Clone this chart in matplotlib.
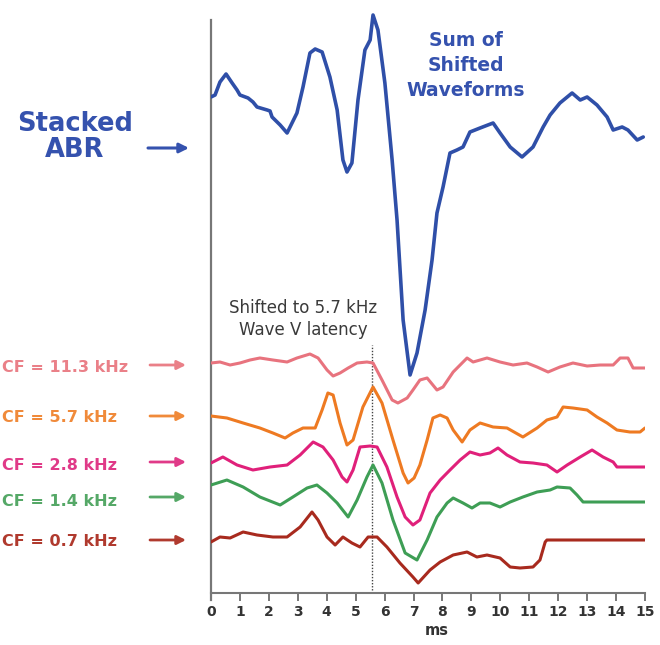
import matplotlib
matplotlib.use("Agg")
import matplotlib.pyplot as plt
import numpy as np

# ---------------------------------------------------------------- data
# Summed (stacked) ABR, time in ms and amplitude in arbitrary units
sum_t = [0.00, 0.14, 0.31, 0.52, 0.73, 0.90, 1.00, 1.28, 1.45, 1.59, 1.94, 2.04,
         2.11, 2.39, 2.63, 2.97, 3.18, 3.42, 3.60, 3.84, 4.11, 4.36, 4.56, 4.70,
         4.87, 5.08, 5.32, 5.50, 5.60, 5.77, 6.01, 6.26, 6.43, 6.64, 6.88, 7.12,
         7.40, 7.64, 7.81, 8.02, 8.26, 8.50, 8.71, 8.95, 9.30, 9.75, 9.99, 10.34,
         10.75, 11.13, 11.48, 11.72, 12.06, 12.48, 12.76, 13.00, 13.34, 13.69,
         13.90, 14.21, 14.41, 14.73, 14.94]
sum_amp = [0, 2, 15, 23, 14, 7, 2, -1, -5, -10, -13, -14,
           -20, -28, -36, -16, 10, 44, 48, 45, 20, -13, -63, -75,
           -66, -3, 47, 57, 82, 67, 14, -63, -123, -223, -278, -256,
           -213, -163, -116, -90, -56, -53, -50, -35, -31, -26, -36, -50,
           -60, -50, -30, -18, -6, 4, -3, 0, -8, -20,
           -33, -30, -33, -43, -40]

# Derived-band responses shifted to the 5.7 kHz wave V latency
cf_labels = ["CF = 11.3 kHz", "CF = 5.7 kHz", "CF = 2.8 kHz",
             "CF = 1.4 kHz", "CF = 0.7 kHz"]

t_113 = [0.00, 0.31, 0.66, 1.00, 1.35, 1.69, 2.14, 2.63, 2.97, 3.42, 3.70, 4.01,
         4.22, 4.46, 4.74, 5.05, 5.39, 5.60, 5.91, 6.26, 6.46, 6.78, 6.98, 7.22,
         7.47, 7.81, 8.02, 8.37, 8.85, 9.06, 9.54, 9.99, 10.44, 10.92, 11.27,
         11.65, 12.06, 12.51, 13.00, 13.45, 13.90, 14.14, 14.41, 14.59, 15.00]
a_113 = [0, 1, -2, 0, 3, 5, 3, 1, 5, 9, 5, -7,
         -13, -10, -5, 0, 1, 0, -17, -37, -40, -35, -27, -17,
         -15, -27, -24, -9, 5, 1, 5, 1, -2, 0, -4,
         -9, -4, 0, -3, -2, -2, 5, 5, -5, -5]

t_57 = [0.00, 0.55, 1.11, 1.69, 2.14, 2.56, 2.83, 3.18, 3.60, 3.84, 4.04, 4.22,
        4.46, 4.70, 4.91, 5.25, 5.60, 5.91, 6.29, 6.64, 6.81, 7.02, 7.22, 7.47,
        7.67, 7.92, 8.16, 8.37, 8.68, 8.95, 9.30, 9.75, 10.23, 10.78, 11.27,
        11.61, 11.96, 12.17, 12.51, 13.00, 13.34, 13.69, 14.03, 14.48, 14.83, 15.00]
a_57 = [0, -2, -7, -12, -17, -22, -17, -12, -12, 6, 23, 21,
        -7, -29, -24, 9, 29, 13, -24, -57, -67, -62, -49, -24,
        -2, 1, -2, -14, -26, -14, -7, -11, -12, -21, -12,
        -4, -1, 9, 8, 6, -1, -7, -14, -16, -16, -12]

t_28 = [0.00, 0.41, 0.90, 1.45, 2.04, 2.63, 3.08, 3.53, 3.87, 4.22, 4.53, 4.70,
        4.91, 5.15, 5.50, 5.74, 6.08, 6.43, 6.71, 6.98, 7.22, 7.57, 7.92, 8.26,
        8.61, 8.95, 9.30, 9.64, 9.92, 10.23, 10.68, 11.13, 11.61, 11.96, 12.31,
        12.76, 13.17, 13.55, 13.90, 14.03, 15.00]
a_28 = [0, 6, -2, -7, -4, -2, 8, 21, 16, 3, -14, -19,
        -7, 16, 17, 16, -4, -34, -54, -62, -57, -30, -17, -7,
        3, 11, 8, 10, 15, 8, 1, 0, -2, -9, -2,
        6, 13, 6, 1, -4, -4]

t_14 = [0.00, 0.55, 1.11, 1.69, 2.39, 2.83, 3.32, 3.66, 4.01, 4.36, 4.74, 5.05,
        5.39, 5.60, 5.91, 6.29, 6.71, 7.12, 7.47, 7.81, 8.16, 8.37, 8.71, 9.02,
        9.30, 9.64, 9.99, 10.34, 10.78, 11.27, 11.72, 11.96, 12.41, 12.65, 12.86,
        15.00]
a_14 = [0, 5, -2, -12, -20, -12, -3, 0, -8, -18, -32, -15,
        8, 20, 2, -35, -68, -75, -55, -32, -18, -13, -18, -23,
        -18, -18, -22, -17, -12, -7, -5, -2, -3, -10, -17,
        -17]

t_07 = [0.00, 0.31, 0.66, 1.11, 1.59, 2.14, 2.63, 3.08, 3.49, 3.70, 4.01, 4.29,
        4.56, 4.87, 5.15, 5.43, 5.74, 6.08, 6.53, 6.98, 7.16, 7.57, 7.92, 8.37,
        8.85, 9.19, 9.54, 9.99, 10.34, 10.68, 11.13, 11.37, 11.55, 11.61, 15.00]
a_07 = [0, 5, 4, 10, 7, 5, 5, 15, 30, 22, 5, -3,
        5, -1, -5, 5, 5, -5, -21, -35, -41, -28, -20, -13,
        -10, -15, -13, -16, -25, -26, -25, -18, 0, 2, 2]

wave_v_latency = 5.56          # ms, reference latency of the 5.7 kHz band
x_ticks = list(range(0, 16))

# ---------------------------------------------------------------- style
W, H = 660, 645
BLUE = "#2f4fa8"
band_colors = ["#e8737e", "#ee7a22", "#e0207a", "#3e9e55", "#a82a1e"]
label_colors = ["#ea8088", "#f08a3a", "#e03a88", "#55a867", "#b03a2e"]

sum_base = 548
band_base = [282, 229, 182, 160, 103]
band_t = [t_113, t_57, t_28, t_14, t_07]
band_a = [a_113, a_57, a_28, a_14, a_07]

fig = plt.figure(figsize=(W / 100, H / 100), dpi=100)
ax = fig.add_axes([211 / W, 0, 434 / W, 1])
ax.set_xlim(0, 15)
ax.set_ylim(0, H)
ax.patch.set_alpha(0)


def fig_xy(px, py):
    return px / W, 1 - py / H


# summed waveform
ax.plot(sum_t, np.array(sum_amp) + sum_base, color=BLUE, lw=2.6,
        solid_joinstyle="round", solid_capstyle="round", zorder=5)

# individual bands
for t, a, b, c in zip(band_t, band_a, band_base, band_colors):
    ax.plot(t, np.array(a) + b, color=c, lw=2.2,
            solid_joinstyle="round", solid_capstyle="round", zorder=4)

# wave V reference latency
ax.plot([wave_v_latency, wave_v_latency], [55, 300], color="#444444",
        lw=1.0, linestyle=(0, (1, 1.2)), zorder=3)

# axes styling
for s in ("top", "right"):
    ax.spines[s].set_visible(False)
ax.spines["bottom"].set_position(("data", 52))
ax.spines["bottom"].set_color("#777777")
ax.spines["bottom"].set_linewidth(1.5)
ax.spines["left"].set_color("#777777")
ax.spines["left"].set_linewidth(1.6)
ax.spines["left"].set_bounds(45, 625)
ax.set_yticks([])
ax.set_xticks(x_ticks)
ax.set_xticklabels([str(v) for v in x_ticks], fontsize=10,
                   fontweight="bold", color="#333333")
ax.tick_params(axis="x", direction="out", length=6, width=1.4,
               color="#777777", pad=3)
ax.set_xlabel("ms", fontsize=10.5, fontweight="bold", color="#333333")
ax.xaxis.set_label_coords(226 / 434, (H - 623) / H)

# titles / annotations
fig.text(*fig_xy(75, 124), "Stacked", ha="center", va="center",
         fontsize=18.5, fontweight="bold", color="#3552ae")
fig.text(*fig_xy(75, 150), "ABR", ha="center", va="center",
         fontsize=18.5, fontweight="bold", color="#3552ae")
ax.annotate("", xy=fig_xy(189, 148), xytext=fig_xy(148, 148),
            xycoords="figure fraction", textcoords="figure fraction",
            arrowprops=dict(arrowstyle="-|>", color="#3552ae", lw=2.2,
                            mutation_scale=14, shrinkA=0, shrinkB=0))

for i, line in enumerate(["Sum of", "Shifted", "Waveforms"]):
    fig.text(*fig_xy(466, 40 + 25.5 * i), line, ha="center", va="center",
             fontsize=13.5, fontweight="bold", color="#3552ae")

fig.text(*fig_xy(303, 308), "Shifted to 5.7 kHz", ha="center", va="center",
         fontsize=12, color="#3a3a3a")
fig.text(*fig_xy(303, 330), "Wave V latency", ha="center", va="center",
         fontsize=12, color="#3a3a3a")

label_y = [367, 417, 465, 502, 542]
arrow_y = [365, 416, 462, 497, 540]
for lab, ly, ay, c in zip(cf_labels, label_y, arrow_y, label_colors):
    fig.text(*fig_xy(2, ly), lab, ha="left", va="center",
             fontsize=11.5, fontweight="bold", color=c)
    ax.annotate("", xy=fig_xy(186, ay), xytext=fig_xy(150, ay),
                xycoords="figure fraction", textcoords="figure fraction",
                arrowprops=dict(arrowstyle="-|>", color=c, lw=2.0,
                                mutation_scale=13, shrinkA=0, shrinkB=0))

fig.savefig("out.png", dpi=100, facecolor="white")
